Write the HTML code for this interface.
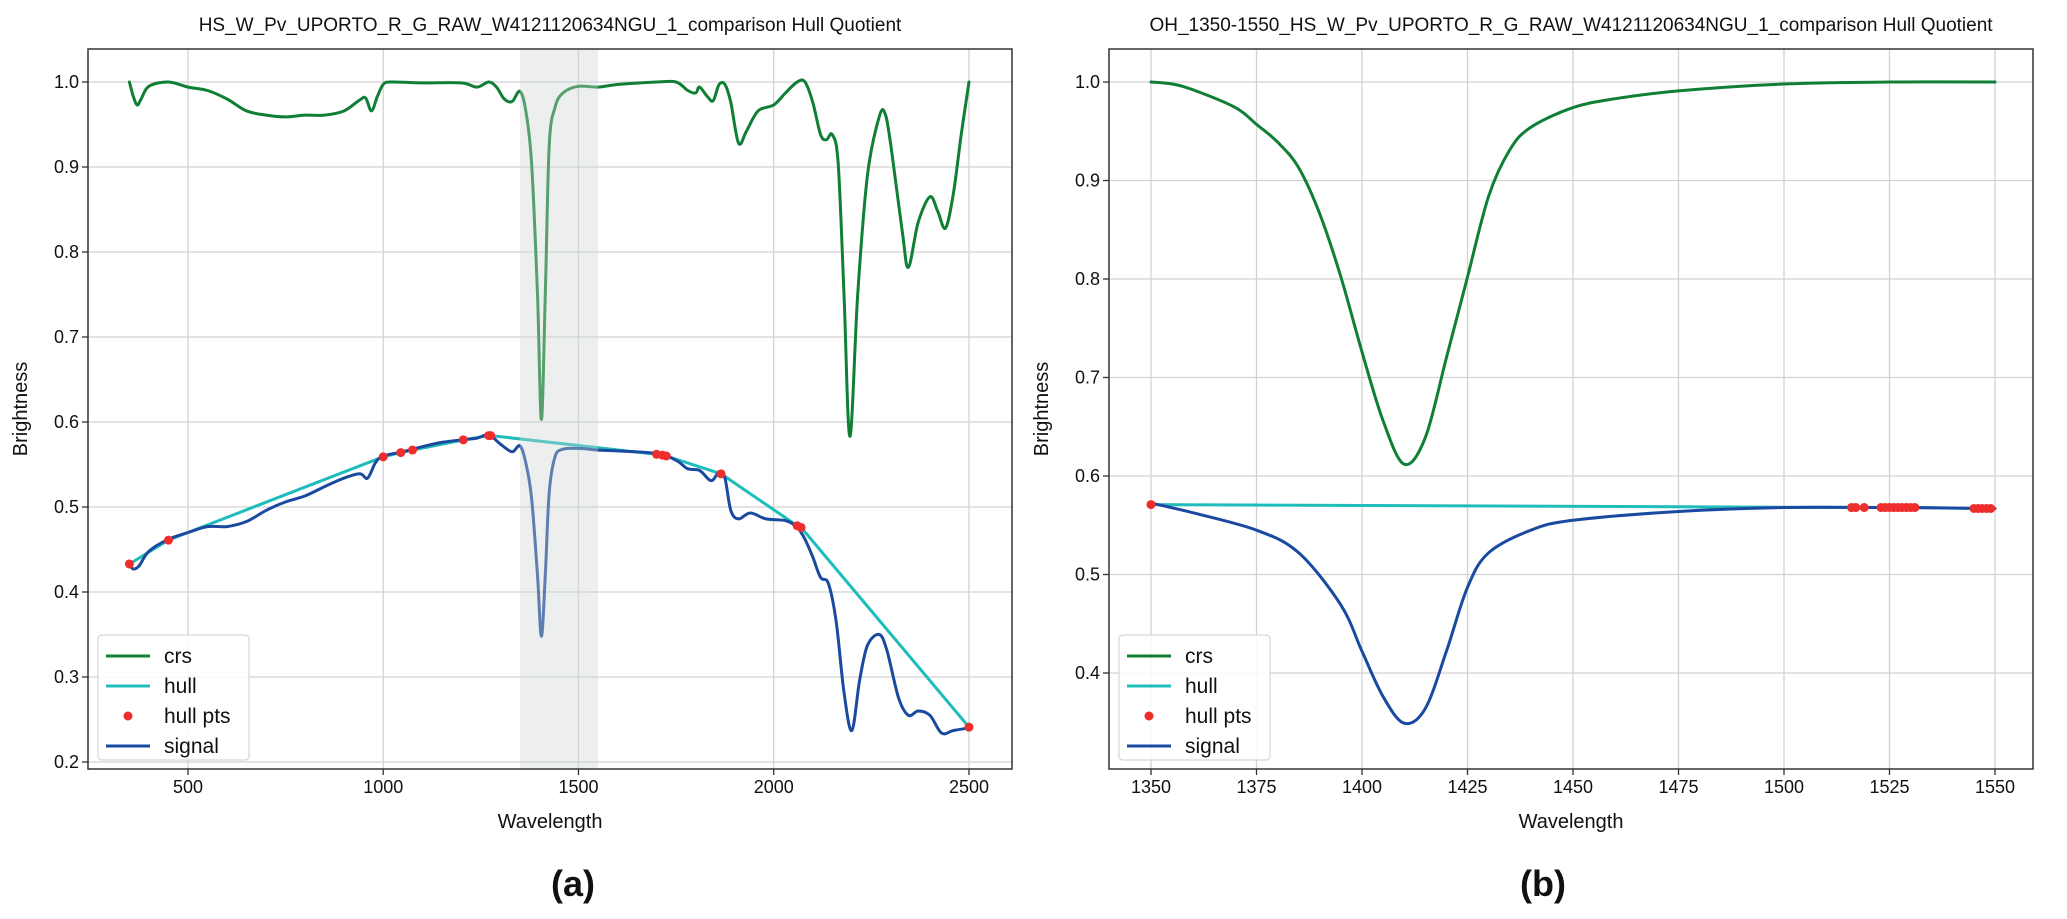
<!DOCTYPE html>
<html><head><meta charset="utf-8"><style>
html,body{margin:0;padding:0;background:#fff}
svg{display:block;font-family:"Liberation Sans","DejaVu Sans",sans-serif}
</style></head><body>
<svg id="fig" width="2067" height="919" viewBox="0 0 2067 919" xmlns="http://www.w3.org/2000/svg"></svg>
<script>
// ---- Panel (a) data ----
const aCrsX=[350,360,370,380,400,450,500,550,600,650,700,750,800,850,900,940,955,970,985,1000,1020,1100,1200,1240,1270,1290,1310,1330,1350,1365,1380,1395,1405,1415,1425,1440,1460,1500,1550,1600,1700,1750,1780,1800,1810,1830,1845,1860,1875,1890,1910,1930,1960,2000,2030,2060,2080,2100,2120,2135,2150,2165,2180,2195,2215,2240,2270,2285,2300,2330,2345,2370,2400,2420,2440,2460,2480,2500];
const aCrsY=[1.0,0.983,0.973,0.98,0.995,1.0,0.994,0.99,0.98,0.966,0.961,0.959,0.961,0.961,0.966,0.979,0.981,0.966,0.983,0.997,1.0,0.999,0.999,0.994,1.0,0.994,0.98,0.977,0.989,0.966,0.904,0.75,0.603,0.75,0.925,0.97,0.987,0.995,0.994,0.997,1.0,1.0,0.99,0.987,0.994,0.983,0.978,0.997,0.997,0.976,0.928,0.942,0.966,0.973,0.987,1.0,1.0,0.976,0.938,0.932,0.938,0.904,0.75,0.583,0.75,0.89,0.959,0.963,0.925,0.821,0.782,0.835,0.865,0.848,0.828,0.869,0.938,1.0];
const aSigX=[350,360,375,400,450,500,550,600,650,700,750,800,850,900,940,960,980,1000,1050,1100,1150,1200,1240,1270,1300,1330,1350,1365,1380,1395,1405,1415,1425,1440,1460,1500,1550,1600,1700,1750,1780,1810,1840,1860,1875,1890,1910,1940,1980,2030,2060,2080,2100,2120,2140,2160,2180,2200,2220,2240,2270,2290,2320,2345,2370,2400,2430,2460,2500];
const aSigY=[0.433,0.427,0.431,0.448,0.462,0.47,0.477,0.477,0.483,0.496,0.506,0.513,0.524,0.534,0.539,0.534,0.552,0.56,0.565,0.571,0.576,0.579,0.581,0.585,0.574,0.565,0.572,0.552,0.51,0.42,0.348,0.42,0.517,0.559,0.568,0.569,0.567,0.566,0.563,0.555,0.545,0.543,0.531,0.541,0.534,0.496,0.486,0.493,0.486,0.484,0.476,0.462,0.441,0.417,0.41,0.365,0.282,0.237,0.296,0.337,0.35,0.331,0.275,0.255,0.26,0.255,0.234,0.237,0.24];
const aHullX=[350,450,1000,1045,1075,1205,1270,1275,1700,1715,1725,1865,2060,2070,2500];
const aHullY=[0.433,0.461,0.559,0.564,0.567,0.579,0.584,0.584,0.562,0.561,0.56,0.539,0.478,0.476,0.241];
const aXTicks=[500,1000,1500,2000,2500];
const aYTicks=[0.2,0.3,0.4,0.5,0.6,0.7,0.8,0.9,1.0];
const aSpan=[1350,1550];
// ---- Panel (b) data ----
const bCrsX=[1350,1355,1360,1370,1375,1380,1385,1390,1395,1400,1405,1410,1415,1420,1425,1430,1435,1440,1450,1460,1475,1500,1525,1550];
const bCrsY=[1.0,0.998,0.992,0.974,0.957,0.939,0.913,0.866,0.802,0.726,0.656,0.612,0.639,0.72,0.802,0.884,0.931,0.954,0.974,0.983,0.991,0.998,1.0,1.0];
const bSigX=[1350,1360,1375,1385,1395,1400,1405,1410,1415,1420,1425,1430,1440,1450,1475,1500,1525,1550];
const bSigY=[0.5725,0.5626,0.545,0.522,0.469,0.422,0.376,0.349,0.364,0.422,0.487,0.522,0.545,0.555,0.564,0.568,0.568,0.567];
const bHullX=[1350,1516,1517,1519,1523,1524,1525,1526,1527,1528,1529,1530,1531,1545,1546,1547,1548,1549];
const bHullY=[0.571,0.568,0.568,0.568,0.568,0.568,0.568,0.568,0.568,0.568,0.568,0.568,0.568,0.567,0.567,0.567,0.567,0.567];
const bXTicks=[1350,1375,1400,1425,1450,1475,1500,1525,1550];
const bYTicks=[0.4,0.5,0.6,0.7,0.8,0.9,1.0];

const NS='http://www.w3.org/2000/svg';
const svg=document.getElementById('fig');
function mk(tag,attrs,parent){const e=document.createElementNS(NS,tag);for(const k in attrs)e.setAttribute(k,attrs[k]);(parent||svg).appendChild(e);return e;}
function txt(s,attrs,parent){const e=mk('text',attrs,parent);e.textContent=s;return e;}
function smooth(pts){
  let d='M'+pts[0][0].toFixed(1)+','+pts[0][1].toFixed(1);
  for(let i=0;i<pts.length-1;i++){
    const p0=pts[Math.max(0,i-1)],p1=pts[i],p2=pts[i+1],p3=pts[Math.min(pts.length-1,i+2)];
    const c1x=p1[0]+(p2[0]-p0[0])/6,c1y=p1[1]+(p2[1]-p0[1])/6;
    const c2x=p2[0]-(p3[0]-p1[0])/6,c2y=p2[1]-(p3[1]-p1[1])/6;
    d+=' C'+c1x.toFixed(1)+','+c1y.toFixed(1)+' '+c2x.toFixed(1)+','+c2y.toFixed(1)+' '+p2[0].toFixed(1)+','+p2[1].toFixed(1);
  }
  return d;
}
function panel(o){
  const g=mk('g',{});
  
  
  const sx=v=>o.L+(v-o.x0)/(o.x1-o.x0)*(o.R-o.L);
  const sy=v=>o.B-(v-o.y0)/(o.y1-o.y0)*(o.B-o.T);
  o.xt.forEach(t=>{const l=mk('line',{x1:sx(t),x2:sx(t),y1:o.T,y2:o.B,stroke:'#d2d2d2','stroke-width':1.3},g);
    
    const k=mk('line',{x1:sx(t),x2:sx(t),y1:o.B,y2:o.B+6,stroke:'#333','stroke-width':1.3},g);
    
    const tl=txt(String(t),{x:sx(t),y:o.B+24,'font-size':18,'text-anchor':'middle',fill:'#111'},g);
    });
  o.yt.forEach(t=>{const l=mk('line',{x1:o.L,x2:o.R,y1:sy(t),y2:sy(t),stroke:'#d2d2d2','stroke-width':1.3},g);
    
    const k=mk('line',{x1:o.L-6,x2:o.L,y1:sy(t),y2:sy(t),stroke:'#333','stroke-width':1.3},g);
    
    const tl=txt(t.toFixed(1),{x:o.L-9,y:sy(t)+6,'font-size':18,'text-anchor':'end',fill:'#111'},g);
    });
  const clip=mk('clipPath',{id:o.name+'-clip'},g);
  mk('rect',{x:o.L,y:o.T,width:o.R-o.L,height:o.B-o.T},clip);
  const pg=mk('g',{'clip-path':'url(#'+o.name+'-clip)'},g);
  const line=(X,Y,col,nm,sm)=>{const pts=X.map((x,i)=>[sx(x),sy(Y[i])]);
    const p=mk('path',{d:sm?smooth(pts):'M'+pts.map(q=>q[0].toFixed(1)+','+q[1].toFixed(1)).join(' L'),fill:'none',stroke:col,'stroke-width':3,'stroke-linejoin':'round','stroke-linecap':'round'},pg);
    };
  line(o.crsX,o.crsY,'#0f7f35','crs-line',true);
  line(o.hullX,o.hullY,'#1fbcbc','hull-line',false);
  line(o.sigX,o.sigY,'#1a4aa0','signal-line',true);
  o.hullX.forEach((x,i)=>{const c=mk('circle',{cx:sx(x),cy:sy(o.hullY[i]),r:4.5,fill:'#ee2d2d'},pg);
    });
  if(o.span){const r=mk('rect',{x:sx(o.span[0]),y:o.T,width:sx(o.span[1])-sx(o.span[0]),height:o.B-o.T,fill:'rgb(205,214,208)','fill-opacity':0.38},pg);
    }
  const fr=mk('rect',{x:o.L,y:o.T,width:o.R-o.L,height:o.B-o.T,fill:'none',stroke:'#333','stroke-width':1.5},g);
  
  const ti=txt(o.title,{x:(o.L+o.R)/2,y:31,'font-size':19,'text-anchor':'middle',fill:'#111'},g);
  
  const xl=txt('Wavelength',{x:(o.L+o.R)/2,y:828,'font-size':20,'text-anchor':'middle',fill:'#111'},g);
  
  const yl=txt('Brightness',{x:0,y:0,'font-size':20,'text-anchor':'middle',fill:'#111',transform:'translate('+o.ylx+','+((o.T+o.B)/2)+') rotate(-90)'},g);
  
  const pl=txt(o.panel,{x:o.plx,y:896,'font-size':36,'font-weight':'bold','text-anchor':'middle',fill:'#111'},g);
  
  const lg=mk('g',{},g);
  
  const lx=o.legX;
  mk('rect',{x:lx,y:635,width:151,height:125,rx:4,fill:'#fff','fill-opacity':0.85,stroke:'#d6d6d6','stroke-width':1.2},lg);
  const ents=[['crs','#0f7f35','l'],['hull','#1fbcbc','l'],['hull pts','#ee2d2d','p'],['signal','#1a4aa0','l']];
  ents.forEach((e,i)=>{const y=656+i*30;const eg=mk('g',{},lg);
    
    if(e[2]==='l')mk('line',{x1:lx+8,x2:lx+52,y1:y,y2:y,stroke:e[1],'stroke-width':3},eg);
    else mk('circle',{cx:lx+30,cy:y,r:4.5,fill:e[1]},eg);
    txt(e[0],{x:lx+66,y:y+7,'font-size':21,fill:'#111'},eg);});
}
panel({name:'panel-a',L:88,R:1012,T:49,B:769,x0:350-(129.4-88)/0.3905,x1:350+(1012-129.4)/0.3905,y0:0.2-(769-762)/850,y1:1.0+33/850,
  xt:aXTicks,yt:aYTicks,crsX:aCrsX,crsY:aCrsY,sigX:aSigX,sigY:aSigY,hullX:aHullX,hullY:aHullY,span:aSpan,
  title:'HS_W_Pv_UPORTO_R_G_RAW_W4121120634NGU_1_comparison Hull Quotient',ylx:27,panel:'(a)',plx:573,legX:98});
panel({name:'panel-b',L:1109,R:2033,T:49,B:769,x0:1350-42/4.22,x1:1550+38/4.22,y0:0.4-96/985,y1:1.0+33/985,
  xt:bXTicks,yt:bYTicks,crsX:bCrsX,crsY:bCrsY,sigX:bSigX,sigY:bSigY,hullX:bHullX,hullY:bHullY,span:null,
  title:'OH_1350-1550_HS_W_Pv_UPORTO_R_G_RAW_W4121120634NGU_1_comparison Hull Quotient',ylx:1048,panel:'(b)',plx:1543,legX:1119});
</script>
</body></html>
